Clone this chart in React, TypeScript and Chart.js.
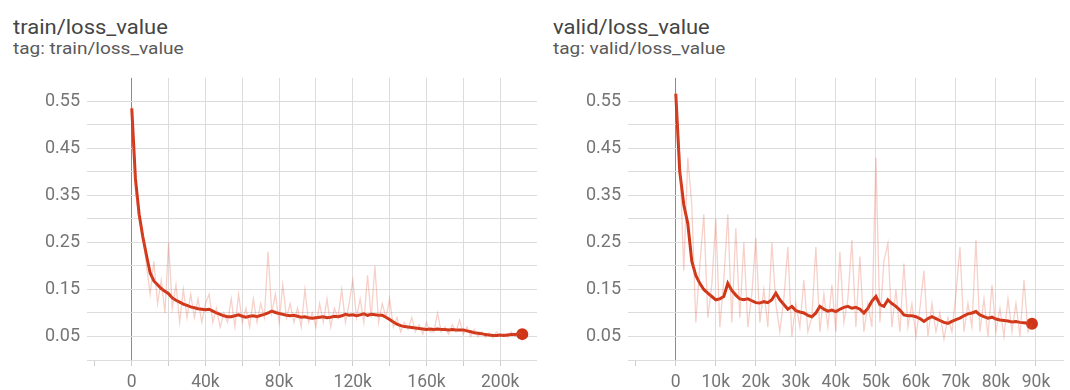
import { useEffect, useRef } from "react";
import { Chart, registerables } from "chart.js";

Chart.register(...registerables);

// Training steps, in thousands
const trainSteps = [
  0, 2, 4, 6, 8, 10, 12, 14, 16, 18, 20, 22, 24, 26, 28, 30, 32, 34, 36, 38,
  40, 42, 44, 46, 48, 50, 52, 54, 56, 58, 60, 62, 64, 66, 68, 70, 72, 74, 76, 78,
  80, 82, 84, 86, 88, 90, 92, 94, 96, 98, 100, 102, 104, 106, 108, 110, 112, 114, 116, 118,
  120, 122, 124, 126, 128, 130, 132, 134, 136, 138, 140, 142, 144, 146, 148, 150, 152, 154, 156, 158,
  160, 162, 164, 166, 168, 170, 172, 174, 176, 178, 180, 182, 184, 186, 188, 190, 192, 194, 196, 198,
  200, 202, 204, 206, 208, 210, 212,
];

// Raw training loss
const trainRaw = [
  0.54, 0.36, 0.3, 0.27, 0.2, 0.14, 0.21, 0.12, 0.17, 0.1, 0.25, 0.11, 0.16, 0.08, 0.15, 0.09, 0.14, 0.09, 0.13, 0.08,
  0.12, 0.14, 0.08, 0.11, 0.07, 0.1, 0.08, 0.13, 0.07, 0.14, 0.08, 0.11, 0.07, 0.13, 0.08, 0.12, 0.09, 0.23, 0.1, 0.14,
  0.08, 0.16, 0.09, 0.12, 0.08, 0.11, 0.07, 0.15, 0.08, 0.1, 0.07, 0.12, 0.08, 0.13, 0.07, 0.11, 0.09, 0.15, 0.08, 0.12,
  0.17, 0.09, 0.13, 0.08, 0.18, 0.09, 0.2, 0.08, 0.12, 0.09, 0.13, 0.07, 0.09, 0.06, 0.08, 0.065, 0.09, 0.06, 0.075, 0.055,
  0.08, 0.06, 0.06, 0.1, 0.06, 0.07, 0.055, 0.075, 0.06, 0.085, 0.055, 0.07, 0.05, 0.065, 0.05, 0.06, 0.048, 0.058, 0.047, 0.06,
  0.05, 0.056, 0.048, 0.06, 0.05, 0.058, 0.055,
];

// Smoothed training loss
const trainSmooth = [
  0.535, 0.385, 0.31, 0.262, 0.222, 0.185, 0.168, 0.16, 0.152, 0.146, 0.141, 0.132, 0.127, 0.123, 0.119, 0.116, 0.113, 0.111, 0.109, 0.108,
  0.107, 0.108, 0.104, 0.1, 0.097, 0.094, 0.092, 0.092, 0.094, 0.096, 0.093, 0.091, 0.093, 0.094, 0.092, 0.095, 0.097, 0.1, 0.104, 0.101,
  0.099, 0.097, 0.095, 0.094, 0.095, 0.093, 0.091, 0.092, 0.09, 0.089, 0.09, 0.091, 0.092, 0.09, 0.091, 0.093, 0.092, 0.094, 0.097, 0.095,
  0.096, 0.094, 0.096, 0.098, 0.095, 0.097, 0.096, 0.095, 0.095, 0.091, 0.086, 0.081, 0.076, 0.073, 0.071, 0.07, 0.069, 0.068, 0.067, 0.066,
  0.065, 0.066, 0.065, 0.066, 0.065, 0.065, 0.064, 0.065, 0.064, 0.064, 0.064, 0.062, 0.06, 0.058, 0.057, 0.056, 0.054, 0.053, 0.052, 0.052,
  0.053, 0.052, 0.053, 0.054, 0.054, 0.055, 0.055,
];

// Validation steps, in thousands
const validSteps = [
  0, 1, 2, 3, 4, 5, 6, 7, 8, 9, 10, 11, 12, 13, 14, 15, 16, 17, 18, 19,
  20, 21, 22, 23, 24, 25, 26, 27, 28, 29, 30, 31, 32, 33, 34, 35, 36, 37, 38, 39,
  40, 41, 42, 43, 44, 45, 46, 47, 48, 49, 50, 51, 52, 53, 54, 55, 56, 57, 58, 59,
  60, 61, 62, 63, 64, 65, 66, 67, 68, 69, 70, 71, 72, 73, 74, 75, 76, 77, 78, 79,
  80, 81, 82, 83, 84, 85, 86, 87, 88, 89,
];

// Raw validation loss
const validRaw = [
  0.57, 0.43, 0.19, 0.43, 0.33, 0.08, 0.2, 0.31, 0.09, 0.16, 0.3, 0.07, 0.17, 0.31, 0.08, 0.28, 0.09, 0.25, 0.07, 0.14,
  0.26, 0.08, 0.15, 0.07, 0.25, 0.12, 0.06, 0.13, 0.24, 0.05, 0.12, 0.07, 0.17, 0.06, 0.09, 0.24, 0.06, 0.14, 0.07, 0.16,
  0.06, 0.23, 0.08, 0.13, 0.255, 0.07, 0.22, 0.06, 0.12, 0.07, 0.43, 0.08, 0.21, 0.248, 0.07, 0.15, 0.06, 0.205, 0.07, 0.12,
  0.05, 0.11, 0.19, 0.05, 0.12, 0.06, 0.1, 0.045, 0.09, 0.06, 0.14, 0.24, 0.06, 0.12, 0.07, 0.255, 0.06, 0.13, 0.05, 0.16,
  0.06, 0.11, 0.05, 0.13, 0.06, 0.12, 0.05, 0.17, 0.06, 0.077,
];

// Smoothed validation loss
const validSmooth = [
  0.566, 0.4, 0.33, 0.29, 0.21, 0.18, 0.163, 0.15, 0.142, 0.135, 0.128, 0.13, 0.135, 0.163, 0.148, 0.138, 0.13, 0.128, 0.13, 0.126,
  0.122, 0.121, 0.124, 0.122, 0.128, 0.142, 0.128, 0.118, 0.108, 0.114, 0.105, 0.102, 0.1, 0.095, 0.092, 0.1, 0.114, 0.108, 0.104, 0.106,
  0.103, 0.108, 0.112, 0.114, 0.11, 0.112, 0.108, 0.1, 0.11, 0.125, 0.135, 0.118, 0.114, 0.128, 0.12, 0.114, 0.106, 0.096, 0.094, 0.094,
  0.092, 0.088, 0.082, 0.088, 0.092, 0.088, 0.084, 0.08, 0.078, 0.082, 0.086, 0.089, 0.094, 0.098, 0.1, 0.103, 0.096, 0.092, 0.089, 0.091,
  0.087, 0.085, 0.084, 0.083, 0.081, 0.082, 0.08, 0.079, 0.078, 0.077,
];

// Shared y ticks (labels only on 0.05, 0.15, ...)
const yTickValues = [0, 0.05, 0.1, 0.15, 0.2, 0.25, 0.3, 0.35, 0.4, 0.45, 0.5, 0.55];
const trainXTicks = [-20, 0, 20, 40, 60, 80, 100, 120, 140, 160, 180, 200];
const validXTicks = [-10, 0, 10, 20, 30, 40, 50, 60, 70, 80, 90];

const LINE_COLOR = "#cf3618";
const RAW_COLOR = "rgba(228, 100, 76, 0.3)";
const GRID_COLOR = "#dcdcdc";
const ZERO_COLOR = "#8a8a8a";
const FONT = "Roboto, 'Noto Sans', sans-serif";

type PanelProps = {
  title: string;
  tag: string;
  steps: number[];
  raw: number[];
  smooth: number[];
  xTicks: number[];
  xLabelEvery: number;
  xMin: number;
  xMax: number;
  left: number;
  width: number;
  yAxisWidth: number;
  padRight: number;
};

function Panel(p: PanelProps) {
  const ref = useRef<HTMLCanvasElement | null>(null);

  useEffect(() => {
    if (!ref.current) return;
    const last = p.smooth.length - 1;
    const chart = new Chart(ref.current, {
      type: "line",
      data: {
        datasets: [
          {
            data: p.steps.map((s, i) => ({ x: s, y: p.raw[i] })),
            borderColor: RAW_COLOR,
            borderWidth: 1.3,
            pointRadius: 0,
            tension: 0,
          },
          {
            data: p.steps.map((s, i) => ({ x: s, y: p.smooth[i] })),
            borderColor: LINE_COLOR,
            borderWidth: 3,
            pointRadius: (ctx: any) => (ctx.dataIndex === last ? 6 : 0),
            pointBackgroundColor: LINE_COLOR,
            pointBorderWidth: 0,
            tension: 0,
          },
        ],
      },
      options: {
        animation: false,
        responsive: false,
        maintainAspectRatio: false,
        layout: { padding: { top: 17, right: p.padRight, left: 0, bottom: 0 } },
        plugins: { legend: { display: false }, tooltip: { enabled: false } },
        scales: {
          x: {
            type: "linear",
            min: p.xMin,
            max: p.xMax,
            afterBuildTicks: (s: any) => {
              s.ticks = p.xTicks.map((v) => ({ value: v }));
            },
            afterFit: (s: any) => {
              s.height = 30;
            },
            border: { display: false },
            grid: {
              drawTicks: true,
              tickLength: 6,
              tickColor: "#cccccc",
              color: (ctx: any) => {
                const v = ctx.tick ? ctx.tick.value : 1;
                if (v < 0) return "rgba(0,0,0,0)";
                if (v === 0) return ZERO_COLOR;
                return GRID_COLOR;
              },
            },
            ticks: {
              autoSkip: false,
              maxRotation: 0,
              minRotation: 0,
              padding: 6,
              color: "#757575",
              font: { family: FONT, size: 17.5 },
              callback: (v: any) => {
                const n = Number(v);
                if (n < 0 || n % p.xLabelEvery !== 0) return "";
                return n === 0 ? "0" : `${n}k`;
              },
            },
          },
          y: {
            min: 0,
            max: 0.6,
            afterBuildTicks: (s: any) => {
              s.ticks = yTickValues.map((v) => ({ value: v }));
            },
            afterFit: (s: any) => {
              s.width = p.yAxisWidth;
            },
            border: { display: false },
            grid: { drawTicks: false, color: GRID_COLOR },
            ticks: {
              autoSkip: false,
              padding: 7,
              color: "#757575",
              font: { family: FONT, size: 18 },
              callback: (v: any) => {
                const n = Math.round(Number(v) * 100);
                return n % 10 === 5 ? (n / 100).toFixed(2) : "";
              },
            },
          },
        },
      },
    } as any);
    return () => chart.destroy();
  }, []);

  return (
    <>
      <div
        style={{
          position: "absolute",
          left: p.left + 13,
          top: 17,
          font: `20px ${FONT}`,
          lineHeight: "20px",
          color: "#454545",
          whiteSpace: "nowrap",
          transform: "scaleX(1.1)",
          transformOrigin: "0 0",
        }}
      >
        {p.title}
      </div>
      <div
        style={{
          position: "absolute",
          left: p.left + 13,
          top: 40,
          font: `17px ${FONT}`,
          lineHeight: "17px",
          color: "#5a5a5a",
          whiteSpace: "nowrap",
          transform: "scaleX(1.12)",
          transformOrigin: "0 0",
        }}
      >
        {p.tag}
      </div>
      <canvas
        ref={ref}
        width={p.width}
        height={330}
        style={{ position: "absolute", left: p.left, top: 60, width: p.width, height: 330 }}
      />
    </>
  );
}

export default function App() {
  return (
    <div
      style={{
        position: "fixed",
        left: 0,
        top: 0,
        width: 1070,
        height: 390,
        background: "#ffffff",
        overflow: "hidden",
      }}
    >
      <Panel
        title="train/loss_value"
        tag="tag: train/loss_value"
        steps={trainSteps}
        raw={trainRaw}
        smooth={trainSmooth}
        xTicks={trainXTicks}
        xLabelEvery={40}
        xMin={-24.3}
        xMax={220}
        left={0}
        width={545}
        yAxisWidth={87}
        padRight={8}
      />
      <Panel
        title="valid/loss_value"
        tag="tag: valid/loss_value"
        steps={validSteps}
        raw={validRaw}
        smooth={validSmooth}
        xTicks={validXTicks}
        xLabelEvery={10}
        xMin={-11.94}
        xMax={97}
        left={540}
        width={530}
        yAxisWidth={88}
        padRight={4}
      />
    </div>
  );
}
